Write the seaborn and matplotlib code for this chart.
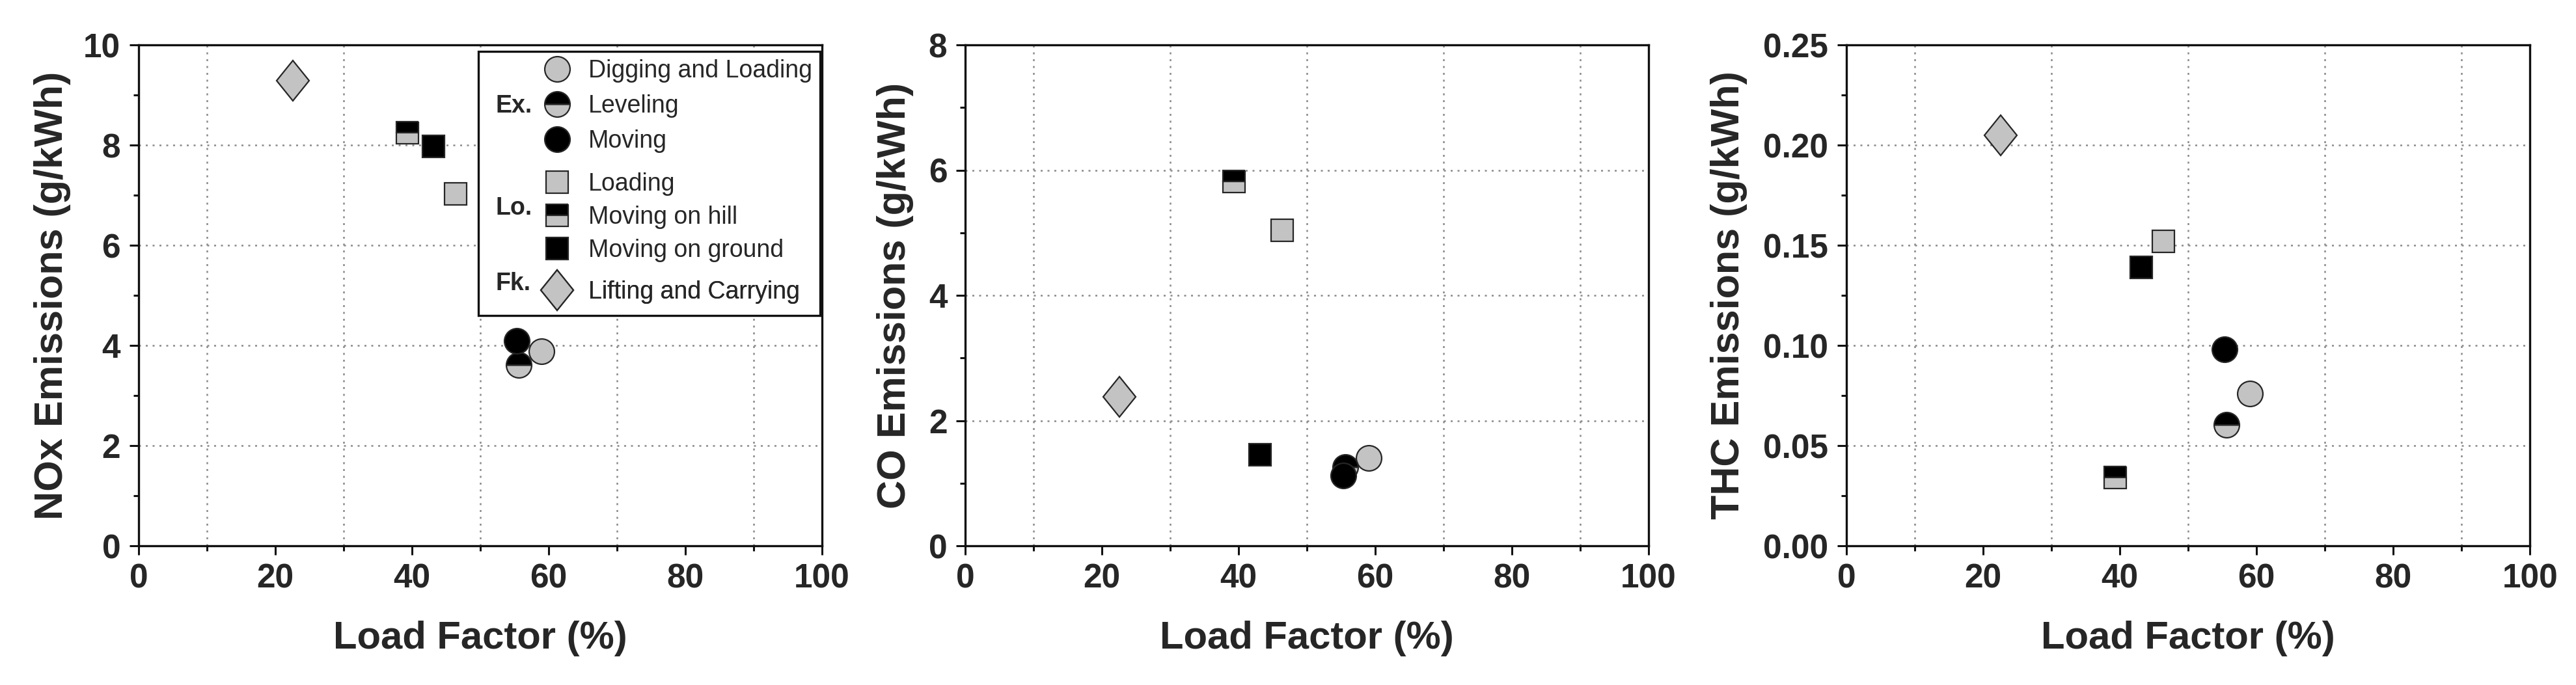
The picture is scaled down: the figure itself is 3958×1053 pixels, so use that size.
import numpy as np
import pandas as pd
import matplotlib
matplotlib.use('Agg')
import matplotlib.pyplot as plt
import seaborn as sns
from matplotlib.ticker import MultipleLocator, FormatStrFormatter
from matplotlib.markers import MarkerStyle
from matplotlib.transforms import Affine2D
from matplotlib.patches import Rectangle

# ── Data ─────────────────────────────────────────────────────
activities = ['Digging and Loading', 'Leveling', 'Moving',
              'Loading', 'Moving on hill', 'Moving on ground',
              'Lifting and Carrying']
groups = ['Ex.', 'Ex.', 'Ex.', 'Lo.', 'Lo.', 'Lo.', 'Fk.']
load_factor = [59.0, 55.6, 55.3, 46.4, 39.3, 43.1, 22.6]
nox = [3.88, 3.61, 4.09, 7.03, 8.25, 7.97, 9.29]
co = [1.40, 1.26, 1.12, 5.04, 5.82, 1.45, 2.38]
thc = [0.076, 0.0605, 0.098, 0.152, 0.034, 0.139, 0.205]

df = pd.DataFrame({'activity': activities, 'group': groups,
                   'load': load_factor, 'NOx': nox, 'CO': co, 'THC': thc})

# ── Style ────────────────────────────────────────────────────
sns.set_style('ticks')
plt.rcParams['font.family'] = ['Liberation Sans', 'DejaVu Sans']

GRAY = '#c3c3c3'
EDGE = '#262626'
diamond = MarkerStyle('D', transform=Affine2D().scale(0.8, 1.0))

styles = {
    'Digging and Loading':  dict(marker='o', ms=28, mfc=GRAY),
    'Leveling':             dict(marker='o', ms=28, mfc='black',
                                 markerfacecoloralt=GRAY, fillstyle='top'),
    'Moving':               dict(marker='o', ms=28, mfc='black'),
    'Loading':              dict(marker='s', ms=25, mfc=GRAY),
    'Moving on hill':       dict(marker='s', ms=25, mfc='black',
                                 markerfacecoloralt=GRAY, fillstyle='top'),
    'Moving on ground':     dict(marker='s', ms=25, mfc='black'),
    'Lifting and Carrying': dict(marker=diamond, ms=32, mfc=GRAY),
}

panels = [
    ('NOx', 'NOx Emissions (g/kWh)', (0, 10), 2, 1, '%g', -0.099),
    ('CO', 'CO Emissions (g/kWh)', (0, 8), 2, 1, '%g', -0.075),
    ('THC', 'THC Emissions (g/kWh)', (0, 0.25), 0.05, 0.025, '%.2f', -0.145),
]
lefts = [0.0538, 0.3747, 0.7168]

fig = plt.figure(figsize=(39.58, 10.53), dpi=100)

for (col, ylab, ylim, ymaj, ymin, yfmt, ylx), left in zip(panels, lefts):
    ax = fig.add_axes([left, 0.2032, 0.2653, 0.7312])
    ax.set_axisbelow(True)

    for act in activities:
        sub = df[df['activity'] == act]
        sns.lineplot(data=sub, x='load', y=col, ax=ax, linestyle='',
                     markeredgecolor=EDGE, markeredgewidth=1.6,
                     estimator=None, errorbar=None, legend=False,
                     label=act, **styles[act])

    ax.set_xlim(0, 100)
    ax.set_ylim(*ylim)
    ax.xaxis.set_major_locator(MultipleLocator(20))
    ax.xaxis.set_minor_locator(MultipleLocator(10))
    ax.yaxis.set_major_locator(MultipleLocator(ymaj))
    ax.yaxis.set_minor_locator(MultipleLocator(ymin))
    ax.yaxis.set_major_formatter(FormatStrFormatter(yfmt))

    # Origin-style grid: x on minor ticks, y on major ticks
    ax.grid(False)
    ax.xaxis.grid(True, which='minor', color='#8a8a8a',
                  linestyle=(0, (1.2, 3)), linewidth=1.8)
    ax.yaxis.grid(True, which='major', color='#8a8a8a',
                  linestyle=(0, (1.2, 3)), linewidth=1.8)

    for sp in ax.spines.values():
        sp.set_visible(True)
        sp.set_color('#111111')
        sp.set_linewidth(2.4)
    ax.tick_params(which='both', direction='out', width=2.2,
                   color='#111111', top=False, right=False)
    ax.tick_params(which='major', length=10, labelsize=37)
    ax.tick_params(which='minor', length=6)
    ax.tick_params(axis='x', which='major', pad=9)
    ax.tick_params(axis='y', which='major', pad=10)
    for lbl in ax.get_xticklabels() + ax.get_yticklabels():
        lbl.set_fontweight('bold')

    ax.set_xlabel('Load Factor (%)', fontsize=43, fontweight='bold')
    ax.set_ylabel(ylab, fontsize=44, fontweight='bold')
    ax.xaxis.set_label_coords(0.5, -0.149)
    ax.yaxis.set_label_coords(ylx, 0.5)

    if col == 'NOx':
        # legend frame
        ax.add_patch(Rectangle((0.497, 0.460), 0.500, 0.527,
                               transform=ax.transAxes, facecolor='white',
                               edgecolor='#111111', linewidth=2.4,
                               zorder=4, clip_on=False))
        handles, labels = ax.get_legend_handles_labels()
        hmap = dict(zip(labels, handles))
        group_tops = {'Ex.': 0.972, 'Lo.': 0.746, 'Fk.': 0.530}
        group_text_y = {'Ex.': 0.878, 'Lo.': 0.674, 'Fk.': 0.523}
        group_spacing = {'Ex.': 0.48, 'Lo.': 0.41, 'Fk.': 0.3}
        for g in ['Ex.', 'Lo.', 'Fk.']:
            acts = df.loc[df['group'] == g, 'activity'].tolist()
            leg = ax.legend([hmap[a] for a in acts], acts,
                            loc='upper left', bbox_to_anchor=(0.595, group_tops[g]),
                            frameon=False, fontsize=27, borderpad=0,
                            borderaxespad=0, handlelength=1.0,
                            handletextpad=0.77, labelspacing=group_spacing[g],
                            numpoints=1)
            leg.set_zorder(5)
            ax.add_artist(leg)
            ax.text(0.522, group_text_y[g], g, transform=ax.transAxes,
                    fontsize=27, fontweight='bold', ha='left', va='center',
                    zorder=6)

fig.savefig('out.png', dpi=100)
